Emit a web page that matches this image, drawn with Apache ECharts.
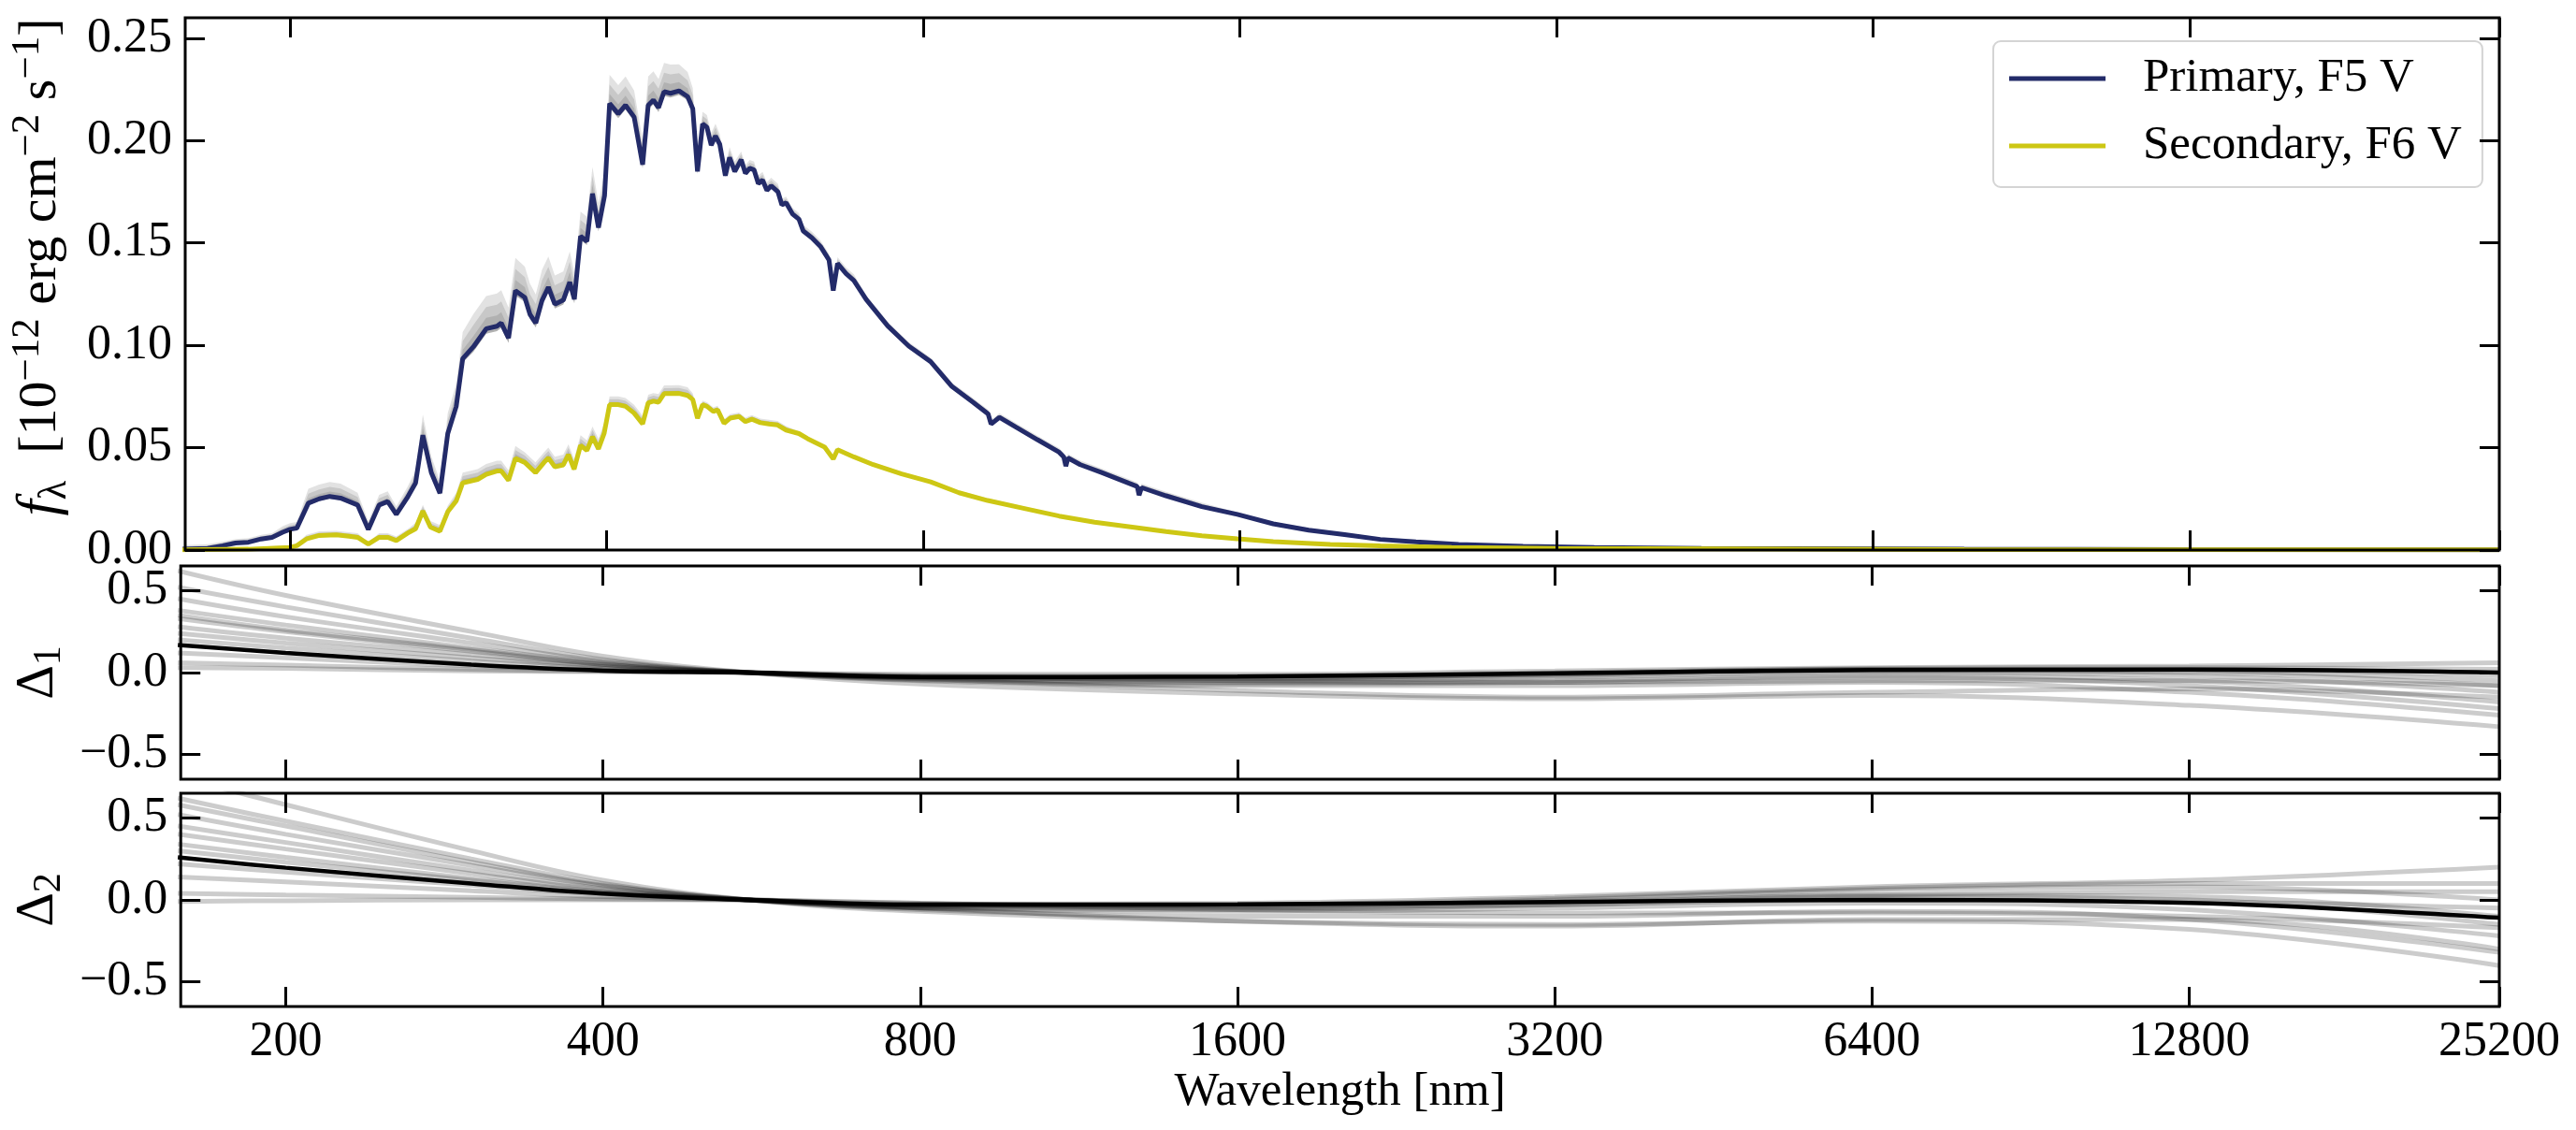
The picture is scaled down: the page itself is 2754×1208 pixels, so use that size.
<!DOCTYPE html>
<html>
<head>
<meta charset="utf-8">
<script src="https://cdn.jsdelivr.net/npm/echarts@6/dist/echarts.min.js"></script>
<style>
  body { margin: 0; background: #fff; }
  #chart { width: 2754px; height: 1208px; }
</style>
</head>
<body>
<div id="chart"></div>
<script>
// wavelength [nm], flux [1e-12 erg cm^-2 s^-1], spread of the posterior samples above the line
const primarySpectrum = [
  [158, 0.0004, 0.002], [167, 0.0008, 0.002], [172.6, 0.0021, 0.002], [177.5, 0.0034, 0.002],
  [182.6, 0.0038, 0.002], [187.8, 0.0054, 0.002], [192.3, 0.0062, 0.002], [196.8, 0.0087, 0.003],
  [200, 0.0101, 0.003], [203, 0.0107, 0.003], [208.2, 0.0229, 0.007], [213.2, 0.0250, 0.007],
  [218.2, 0.0262, 0.007], [223.4, 0.0254, 0.007], [231.9, 0.0220, 0.006], [237.4, 0.0101, 0.004],
  [243.1, 0.0220, 0.005], [247.7, 0.0237, 0.005], [252.4, 0.0174, 0.004], [258.4, 0.0254, 0.005],
  [263.3, 0.0328, 0.006], [267.5, 0.0561, 0.010], [272.5, 0.0378, 0.008], [277.7, 0.0278, 0.006],
  [282.5, 0.0569, 0.010], [287.8, 0.0702, 0.011], [291.9, 0.0935, 0.013], [298.8, 0.0993, 0.016],
  [307.3, 0.1081, 0.016], [314.6, 0.1093, 0.016], [317.6, 0.1109, 0.016], [322.7, 0.1035, 0.015],
  [327.6, 0.1267, 0.016], [334.4, 0.1234, 0.015], [338.2, 0.1151, 0.015], [342.5, 0.1109, 0.014],
  [347.2, 0.1218, 0.015], [352.1, 0.1284, 0.015], [357.1, 0.1201, 0.014], [363.8, 0.1221, 0.014],
  [369, 0.1309, 0.015], [372.7, 0.1225, 0.013], [377.8, 0.1533, 0.012], [383.1, 0.1508, 0.012],
  [387.8, 0.1741, 0.013], [392.9, 0.1575, 0.012], [398.2, 0.1732, 0.012], [402.6, 0.2181, 0.014],
  [410.3, 0.2131, 0.014], [416.9, 0.2173, 0.014], [424.8, 0.2115, 0.013], [432.8, 0.1882, 0.012],
  [438.1, 0.2173, 0.014], [443.1, 0.2198, 0.014], [448.1, 0.2161, 0.014], [453.6, 0.2239, 0.014],
  [460, 0.2231, 0.014], [468.7, 0.2243, 0.013], [477.6, 0.2215, 0.012], [483, 0.2156, 0.010],
  [488, 0.1849, 0.008], [493.5, 0.2081, 0.006], [498.2, 0.2065, 0.006], [502.9, 0.1978, 0.006],
  [507.6, 0.2023, 0.006], [512.4, 0.1982, 0.005], [518.7, 0.1829, 0.005], [523.5, 0.1918, 0.005],
  [529.5, 0.1849, 0.005], [537, 0.1907, 0.004], [542, 0.1840, 0.004], [547.1, 0.1865, 0.004],
  [552.3, 0.1857, 0.004], [557.5, 0.1790, 0.004], [562.7, 0.1807, 0.004], [568.1, 0.1757, 0.004],
  [573.4, 0.1779, 0.004], [582.1, 0.1749, 0.004], [587, 0.1686, 0.003], [592.5, 0.1696, 0.003],
  [600.9, 0.1641, 0.003], [609.4, 0.1616, 0.003], [615.2, 0.1558, 0.003], [626.9, 0.1525, 0.003],
  [638.7, 0.1483, 0.003], [650.8, 0.1417, 0.003], [656.9, 0.1267, 0.003], [663.1, 0.1400, 0.003],
  [675.7, 0.1350, 0.003], [687.2, 0.1317, 0.003], [706, 0.1224, 0.002], [740, 0.1095, 0.002],
  [775, 0.0996, 0.002], [813, 0.0920, 0.002], [852, 0.0798, 0.002], [892, 0.0722, 0.002],
  [922, 0.0665, 0.002], [928, 0.0615, 0.002], [945, 0.0648, 0.002], [980, 0.0600, 0.002],
  [1027, 0.0539, 0.002], [1077, 0.0478, 0.002], [1088, 0.0455, 0.002], [1093, 0.0410, 0.002],
  [1098, 0.0450, 0.002], [1128, 0.0417, 0.002], [1182, 0.0379, 0.002], [1255, 0.0326, 0.002],
  [1278, 0.0310, 0.002], [1283, 0.0268, 0.002], [1290, 0.0305, 0.002], [1361, 0.0265, 0.002],
  [1472, 0.0212, 0.002], [1591, 0.0174, 0.001], [1721, 0.0128, 0.001], [1860, 0.0097, 0.001],
  [2012, 0.0075, 0.001], [2175, 0.0052, 0.001], [2352, 0.0040, 0.001], [2583, 0.0027, 0.001],
  [2973, 0.0018, 0.001], [3476, 0.0012, 0.0005], [4394, 0.0008, 0], [7810, 0.0004, 0],
  [12800, 0.0002, 0], [25200, 0.0001, 0]
];

const secondarySpectrum = [
  [158, 0.0001, 0.001], [182.6, 0.0004, 0.001], [200, 0.0013, 0.001], [203, 0.0021, 0.001],
  [207.3, 0.0054, 0.002], [213.2, 0.0071, 0.002], [221.3, 0.0074, 0.002], [227.6, 0.0067, 0.002],
  [231.9, 0.0062, 0.002], [237.4, 0.0029, 0.001], [243.1, 0.0062, 0.002], [247.7, 0.0062, 0.002],
  [252.4, 0.0046, 0.002], [259.6, 0.0087, 0.002], [263.3, 0.0104, 0.003], [267.5, 0.0191, 0.003],
  [272, 0.0112, 0.003], [277.7, 0.0092, 0.003], [282.5, 0.0187, 0.003], [287.8, 0.0240, 0.004],
  [291.9, 0.0328, 0.005], [301.6, 0.0345, 0.005], [307.3, 0.0370, 0.005], [314.6, 0.0386, 0.005],
  [317.6, 0.0386, 0.005], [322.7, 0.0340, 0.005], [327.6, 0.0448, 0.006], [334.4, 0.0428, 0.005],
  [342.3, 0.0378, 0.005], [348.8, 0.0428, 0.005], [352.1, 0.0450, 0.005], [357.1, 0.0406, 0.005],
  [363.8, 0.0416, 0.005], [367.9, 0.0466, 0.005], [372.5, 0.0395, 0.005], [377.8, 0.0511, 0.005],
  [383.1, 0.0486, 0.005], [387.8, 0.0553, 0.005], [392.9, 0.0494, 0.005], [397.8, 0.0569, 0.005],
  [402.6, 0.0710, 0.004], [410.3, 0.0710, 0.004], [416.9, 0.0702, 0.004], [424.8, 0.0669, 0.004],
  [432.8, 0.0616, 0.004], [438.1, 0.0719, 0.004], [443.1, 0.0727, 0.004], [448.1, 0.0722, 0.004],
  [453.6, 0.0764, 0.004], [468.7, 0.0765, 0.004], [477.6, 0.0755, 0.004], [483, 0.0735, 0.003],
  [488, 0.0644, 0.003], [493.5, 0.0710, 0.002], [498.2, 0.0702, 0.002], [505.2, 0.0677, 0.002],
  [510, 0.0685, 0.002], [517.2, 0.0619, 0.002], [524.1, 0.0644, 0.002], [534.5, 0.0652, 0.002],
  [542, 0.0627, 0.002], [549.7, 0.0639, 0.002], [560.1, 0.0622, 0.002], [570.7, 0.0616, 0.002],
  [581.5, 0.0611, 0.002], [592.5, 0.0586, 0.002], [609.4, 0.0569, 0.001], [621, 0.0544, 0.001],
  [644.7, 0.0503, 0.001], [656.9, 0.0445, 0.001], [663.1, 0.0490, 0.001], [687.2, 0.0455, 0.001],
  [717, 0.0417, 0.001], [763, 0.0372, 0.001], [813, 0.0333, 0.001], [865, 0.0280, 0.001],
  [921, 0.0242, 0.001], [996, 0.0204, 0.001], [1077, 0.0166, 0.0005], [1164, 0.0136, 0.0005],
  [1259, 0.0113, 0.0005], [1361, 0.0090, 0.0005], [1472, 0.0070, 0.0005], [1591, 0.0055, 0.0005],
  [1721, 0.0041, 0], [1950, 0.0027, 0], [2175, 0.0020, 0], [2543, 0.0012, 0],
  [3215, 0.0008, 0], [7810, 0.0002, 0], [25200, 0.0001, 0]
];

// residual panels: values at these wavelengths
const deltaWave = [158, 200, 300, 400, 550, 800, 1600, 3200, 6400, 12800, 25200];
const delta1Best = [0.168, 0.12, 0.048, 0.012, 0.0, -0.027, -0.024, -0.004, 0.015, 0.018, 0.0];
const delta2Best = [0.259, 0.196, 0.10, 0.038, 0.0, -0.029, -0.027, -0.013, 0.0, -0.019, -0.109];
const delta1Samples = [
  [0.62, 0.47, 0.25, 0.10, 0.0, -0.07, -0.13, -0.16, -0.14, -0.20, -0.33],
  [0.52, 0.40, 0.21, 0.08, 0.0, -0.05, -0.08, -0.08, -0.06, -0.12, -0.26],
  [0.45, 0.34, 0.18, 0.07, 0.0, -0.04, -0.06, -0.05, -0.02, -0.05, -0.18],
  [0.38, 0.29, 0.15, 0.06, 0.0, -0.035, -0.05, -0.03, 0.0, -0.02, -0.12],
  [0.35, 0.26, 0.14, 0.05, 0.0, -0.045, -0.07, -0.06, -0.03, -0.08, -0.22],
  [0.33, 0.25, 0.13, 0.05, 0.0, -0.03, -0.04, -0.02, 0.01, 0.0, -0.08],
  [0.28, 0.21, 0.11, 0.04, 0.0, -0.03, -0.035, -0.01, 0.02, 0.01, -0.05],
  [0.24, 0.18, 0.09, 0.035, 0.0, -0.025, -0.03, -0.01, 0.02, 0.02, -0.02],
  [0.20, 0.15, 0.07, 0.025, 0.0, -0.02, -0.02, 0.0, 0.025, 0.03, 0.02],
  [0.12, 0.09, 0.04, 0.015, 0.0, -0.01, -0.01, 0.01, 0.03, 0.04, 0.06],
  [0.03, 0.025, 0.01, 0.005, 0.0, -0.02, -0.05, -0.06, -0.05, -0.05, -0.08],
  [0.06, 0.045, 0.02, 0.008, 0.0, -0.04, -0.11, -0.15, -0.12, -0.10, -0.15]
];
const delta2Samples = [
  [0.75, 0.58, 0.30, 0.12, 0.0, -0.07, -0.13, -0.15, -0.13, -0.18, -0.40],
  [0.62, 0.48, 0.25, 0.10, 0.0, -0.06, -0.10, -0.10, -0.07, -0.12, -0.32],
  [0.58, 0.45, 0.23, 0.09, 0.0, -0.05, -0.06, -0.03, 0.02, 0.0, -0.15],
  [0.52, 0.40, 0.21, 0.085, 0.0, -0.05, -0.07, -0.05, -0.02, -0.06, -0.22],
  [0.45, 0.35, 0.18, 0.07, 0.0, -0.045, -0.05, -0.02, 0.03, 0.02, -0.10],
  [0.40, 0.31, 0.16, 0.06, 0.0, -0.04, -0.04, 0.0, 0.06, 0.08, 0.0],
  [0.34, 0.26, 0.13, 0.05, 0.0, -0.035, -0.03, 0.01, 0.07, 0.10, 0.10],
  [0.30, 0.23, 0.12, 0.045, 0.0, -0.03, -0.03, -0.01, 0.03, 0.05, 0.05],
  [0.22, 0.17, 0.09, 0.035, 0.0, -0.025, -0.02, 0.02, 0.08, 0.12, 0.20],
  [0.14, 0.11, 0.055, 0.02, 0.0, -0.02, -0.04, -0.03, 0.0, -0.01, -0.05],
  [0.04, 0.03, 0.015, 0.005, 0.0, -0.02, -0.06, -0.08, -0.08, -0.10, -0.17],
  [-0.01, -0.005, 0.0, 0.0, 0.0, -0.05, -0.13, -0.16, -0.12, -0.12, -0.30]
];

const xTickWaves = [200, 400, 800, 1600, 3200, 6400, 12800, 25200];
const xTickLabels = ['200', '400', '800', '1600', '3200', '6400', '12800', '25200'];
const fluxTicks = [0, 0.05, 0.10, 0.15, 0.20, 0.25];
const fluxTickLabels = ['0.00', '0.05', '0.10', '0.15', '0.20', '0.25'];
const deltaTicks = [-0.5, 0, 0.5];
const deltaTickLabels = ['\u22120.5', '0.0', '0.5'];

const FONT = 'Liberation Serif';
const PRIMARY = '#232b69';
const SECONDARY = '#cdc714';

const xMin = Math.log2(159);
const xMax = Math.log2(25200);
const xTickPos = xTickWaves.map(w => Math.log2(w));

function pickLabel(values, labels, v) {
  let best = 0;
  values.forEach((t, i) => { if (Math.abs(t - v) < Math.abs(values[best] - v)) best = i; });
  return labels[best];
}

const tickStyle = { show: true, inside: true, length: 21, lineStyle: { color: '#000', width: 3 } };
const labelStyle = { fontFamily: FONT, fontSize: 52, color: '#000' };

function makeX(gridIndex, position, withLabels) {
  const ax = {
    type: 'value', gridIndex, position, min: xMin, max: xMax, z: 10,
    axisLine: { show: false, onZero: false }, splitLine: { show: false },
    axisTick: Object.assign({ customValues: xTickPos }, tickStyle),
    axisLabel: Object.assign({
      show: withLabels, customValues: xTickPos, margin: 12,
      formatter: v => pickLabel(xTickPos, xTickLabels, v)
    }, labelStyle)
  };
  if (withLabels) {
    ax.name = 'Wavelength [nm]';
    ax.nameLocation = 'middle';
    ax.nameGap = 66;
    ax.nameTextStyle = { fontFamily: FONT, fontSize: 51, color: '#000' };
  }
  return ax;
}

function makeY(gridIndex, position, ticks, labels, min, max, name, nameGap, namePad) {
  const ax = {
    type: 'value', gridIndex, position, min, max, z: 10,
    axisLine: { show: false, onZero: false }, splitLine: { show: false },
    axisTick: Object.assign({ customValues: ticks }, tickStyle),
    axisLabel: Object.assign({
      show: position === 'left', customValues: ticks, margin: 14,
      formatter: v => pickLabel(ticks, labels, v)
    }, labelStyle)
  };
  if (name) {
    ax.name = name;
    ax.nameLocation = 'middle';
    ax.nameRotate = 90;
    ax.nameGap = nameGap;
    ax.nameTextStyle = {
      fontFamily: FONT, fontSize: 58, color: '#000', lineHeight: 72,
      padding: [0, 0, 0, namePad || 0],
      rich: {
        it: { fontFamily: FONT, fontSize: 62, fontStyle: 'italic', lineHeight: 72 },
        sub: { fontFamily: FONT, fontSize: 42, verticalAlign: 'bottom', lineHeight: 46 },
        sup: { fontFamily: FONT, fontSize: 43, verticalAlign: 'top', lineHeight: 43 },
        d: { fontFamily: FONT, fontSize: 57, lineHeight: 66 },
        ds: { fontFamily: FONT, fontSize: 42, verticalAlign: 'bottom', lineHeight: 48 }
      }
    };
  }
  return ax;
}

const grids = [
  { left: 192, right: 82, top: 19, height: 569 },
  { left: 192, right: 82, top: 605, height: 228 },
  { left: 192, right: 82, top: 848, height: 228 }
].map(g => Object.assign({ show: true, z: 10, borderColor: '#000', borderWidth: 3, backgroundColor: 'transparent' }, g));

const xAxes = [
  makeX(0, 'bottom', false), makeX(0, 'top', false),
  makeX(1, 'bottom', false), makeX(1, 'top', false),
  makeX(2, 'bottom', true), makeX(2, 'top', false)
];
const yAxes = [
  makeY(0, 'left', fluxTicks, fluxTickLabels, 0, 0.26,
    '{it|f}{sub|λ}  [10{sup|\u221212} erg cm{sup|\u22122} s{sup|\u22121}]', 118, 36),
  makeY(0, 'right', fluxTicks, fluxTickLabels, 0, 0.26),
  makeY(1, 'left', deltaTicks, deltaTickLabels, -0.65, 0.65, '{d|Δ}{ds|1}', 112),
  makeY(1, 'right', deltaTicks, deltaTickLabels, -0.65, 0.65),
  makeY(2, 'left', deltaTicks, deltaTickLabels, -0.65, 0.65, '{d|Δ}{ds|2}', 112),
  makeY(2, 'right', deltaTicks, deltaTickLabels, -0.65, 0.65)
];

const series = [];

// grey sample envelope, shaded in layers so it is darkest next to the line
const bandLayers = [1, 0.66, 0.33];
function addSpectrum(rows, name, color) {
  series.push({
    type: 'custom', xAxisIndex: 0, yAxisIndex: 0, silent: true, clip: true, z: 2,
    data: [0],
    renderItem: (params, api) => {
      const lower = rows.slice().reverse().map(r => api.coord([Math.log2(r[0]), r[1] - r[2] * 0.15]));
      return {
        type: 'group',
        children: bandLayers.map(k => ({
          type: 'polygon',
          shape: { points: rows.map(r => api.coord([Math.log2(r[0]), r[1] + r[2] * k])).concat(lower) },
          style: { fill: 'rgba(20,20,20,0.12)' }
        }))
      };
    }
  });
  series.push({
    name, type: 'line', xAxisIndex: 0, yAxisIndex: 0, z: 5,
    symbol: 'none', color, lineStyle: { color, width: 5 },
    data: rows.map(r => [Math.log2(r[0]), r[1]])
  });
}
addSpectrum(primarySpectrum, 'Primary, F5 V', PRIMARY);
addSpectrum(secondarySpectrum, 'Secondary, F6 V', SECONDARY);

function addDelta(samples, best, axisIndex) {
  samples.forEach(s => {
    series.push({
      type: 'line', xAxisIndex: axisIndex, yAxisIndex: axisIndex, silent: true,
      symbol: 'none', smooth: 0.4,
      lineStyle: { color: 'rgba(0,0,0,0.2)', width: 5 },
      data: deltaWave.map((w, i) => [Math.log2(w), s[i]])
    });
  });
  series.push({
    type: 'line', xAxisIndex: axisIndex, yAxisIndex: axisIndex, silent: true, z: 5,
    symbol: 'none', smooth: 0.4,
    lineStyle: { color: '#000', width: 4.5 },
    data: deltaWave.map((w, i) => [Math.log2(w), best[i]])
  });
}
addDelta(delta1Samples, delta1Best, 2);
addDelta(delta2Samples, delta2Best, 4);

const chart = echarts.init(document.getElementById('chart'));
chart.setOption({
  animation: false,
  backgroundColor: '#fff',
  grid: grids,
  xAxis: xAxes,
  yAxis: yAxes,
  legend: {
    data: ['Primary, F5 V', 'Secondary, F6 V'],
    orient: 'vertical',
    left: 2131, top: 44,
    padding: [11, 22, 15, 17],
    itemGap: 14,
    itemWidth: 103, itemHeight: 5,
    icon: 'rect',
    borderColor: '#d4d4d4', borderWidth: 2, borderRadius: 8,
    backgroundColor: '#fff',
    textStyle: { fontFamily: FONT, fontSize: 51, color: '#000', lineHeight: 58, padding: [0, 0, 0, 35] }
  },
  series
});
</script>
</body>
</html>
